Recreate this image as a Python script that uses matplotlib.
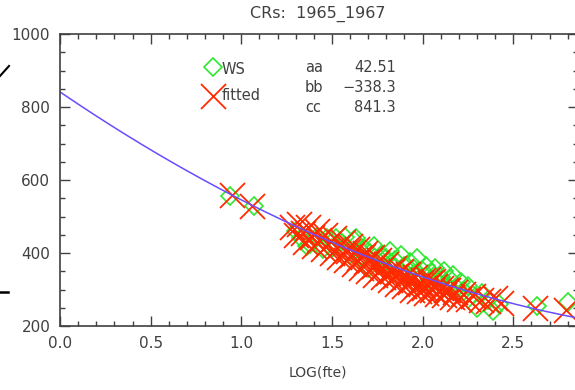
import numpy as np
import matplotlib
matplotlib.use("Agg")
import matplotlib.pyplot as plt
from matplotlib.ticker import MultipleLocator
from matplotlib.lines import Line2D

title = "CRs:  1965_1967"
xlabel = "LOG(fte)"

# fit coefficients: y = aa*x^2 + bb*x + cc
aa, bb, cc = 42.51, -338.3, 841.3

ws_x = [0.94, 1.07,
        1.30, 1.33, 1.36, 1.38, 1.42, 1.45, 1.47, 1.50, 1.52, 1.55, 1.57, 1.60,
        1.62, 1.63, 1.66, 1.68, 1.70, 1.71, 1.73, 1.75, 1.77, 1.78, 1.80, 1.82,
        1.83, 1.85, 1.87, 1.88, 1.90, 1.92, 1.93, 1.95, 1.97, 1.98, 2.00, 2.02,
        2.04, 2.05, 2.07, 2.09, 2.10, 2.12, 2.14, 2.15, 2.17, 2.19, 2.21, 2.23,
        2.25, 2.28, 2.30, 2.33, 2.36, 2.39, 2.42,
        2.63, 2.80]
ws_y = [555, 530,
        460, 440, 420, 425, 445, 410, 440, 415, 440, 430, 445, 395,
        435, 440, 385, 410, 360, 400, 420, 380, 395, 360, 385, 405,
        365, 380, 350, 395, 365, 340, 375, 355, 385, 330, 350, 365,
        325, 345, 360, 320, 335, 350, 310, 330, 340, 305, 320, 295,
        310, 285, 250, 290, 270, 240, 260,
        255, 265]

fit_x = [0.95, 1.06,
         1.28, 1.30, 1.32, 1.34, 1.35, 1.37, 1.39, 1.40, 1.42, 1.43, 1.45, 1.46,
         1.48, 1.50, 1.51, 1.53, 1.54, 1.56, 1.57, 1.58, 1.60, 1.61, 1.62, 1.64,
         1.65, 1.66, 1.68, 1.69, 1.70, 1.72, 1.73, 1.74, 1.76, 1.77, 1.78, 1.80,
         1.81, 1.82, 1.84, 1.85, 1.86, 1.88, 1.89, 1.90, 1.92, 1.93, 1.94, 1.96,
         1.97, 1.98, 2.00, 2.01, 2.02, 2.04, 2.05, 2.07, 2.08, 2.10, 2.12, 2.14,
         2.16, 2.18, 2.20, 2.22, 2.25, 2.28, 2.32, 2.36, 2.40, 2.43,
         1.59, 1.67, 1.75, 1.83, 1.91, 1.99, 2.06, 2.13, 1.71, 1.87, 2.03,
         2.62, 2.79]
fit_y = [560, 530,
         470, 450, 480, 455, 430, 470, 445, 420, 460, 435, 410, 450,
         425, 400, 440, 415, 390, 430, 405, 380, 420, 395, 370, 410,
         385, 360, 400, 375, 350, 390, 365, 340, 380, 355, 335, 370,
         345, 325, 360, 338, 315, 350, 328, 310, 342, 320, 300, 335,
         312, 295, 325, 305, 290, 318, 298, 310, 288, 305, 285, 298,
         280, 292, 275, 288, 275, 282, 270, 268, 278, 262,
         405, 392, 372, 352, 336, 318, 322, 300, 382, 345, 330,
         250, 245]

W, H = 575, 390
fig = plt.figure(figsize=(W / 100, H / 100), dpi=100)
fig.patch.set_facecolor("white")


def fx(px):
    return px / W


def fy(py):
    return 1 - py / H


ax = fig.add_axes([fx(60), fy(326), fx(578) - fx(60), fy(34) - fy(326)])
ax.set_xlim(0, 2.857)
ax.set_ylim(200, 1000)

green = "#2ee82e"
red = "#ff2a00"
blue = "#6a4cff"
txt = "#404040"

ax.plot(ws_x, ws_y, ls="none", marker="D", ms=9.5, mfc="none",
        mec=green, mew=1.2, clip_on=False)
ax.plot(fit_x, fit_y, ls="none", marker="x", ms=18, mec=red, mew=1.3,
        clip_on=False)

xc = np.linspace(0, 2.857, 200)
ax.plot(xc, aa * xc ** 2 + bb * xc + cc, color=blue, lw=1.1)

ax.xaxis.set_major_locator(MultipleLocator(0.5))
ax.xaxis.set_minor_locator(MultipleLocator(0.1))
ax.yaxis.set_major_locator(MultipleLocator(200))
ax.yaxis.set_minor_locator(MultipleLocator(50))
ax.tick_params(which="both", direction="in", top=True, right=True,
               colors=txt, labelsize=11, width=1.0)
ax.tick_params(which="major", length=7.5, pad=7)
ax.tick_params(which="minor", length=3.8)
ax.xaxis.set_major_formatter(matplotlib.ticker.FormatStrFormatter("%.1f"))
for s in ax.spines.values():
    s.set_color(txt)
    s.set_linewidth(1.2)

for lab in ax.get_xticklabels() + ax.get_yticklabels():
    lab.set_color(txt)

fig.text(fx(318), fy(14), title, ha="center", va="center", fontsize=11.5, color=txt)
fig.text(fx(318), fy(372), xlabel, ha="center", va="center", fontsize=10, color=txt)

# legend
leg_d = Line2D([fx(213)], [fy(67)], transform=fig.transFigure, ls="none",
               marker="D", ms=9.5, mfc="none", mec=green, mew=1.2)
leg_x = Line2D([fx(213)], [fy(96)], transform=fig.transFigure, ls="none",
               marker="x", ms=18, mec=red, mew=1.3)
fig.add_artist(leg_d)
fig.add_artist(leg_x)
fig.text(fx(222), fy(70), "WS", ha="left", va="center", fontsize=10.5, color=txt)
fig.text(fx(222), fy(95), "fitted", ha="left", va="center", fontsize=10.5, color=txt)

# coefficients
rows = [("aa", f"{aa:.2f}", 67), ("bb", f"\u2212{abs(bb):.1f}", 87), ("cc", f"{cc:.1f}", 107)]
for name, val, py in rows:
    fig.text(fx(305), fy(py), name, ha="left", va="center", fontsize=10.5, color=txt)
    fig.text(fx(396), fy(py), val, ha="right", va="center", fontsize=10.5, color=txt)

# stray marks at the left edge
fig.add_artist(Line2D([fx(0), fx(9)], [fy(76), fy(66)], color="black", lw=1.5))
fig.add_artist(Line2D([fx(0), fx(8)], [fy(292), fy(292)], color="black", lw=1.8))

fig.savefig("out.png", dpi=100)
